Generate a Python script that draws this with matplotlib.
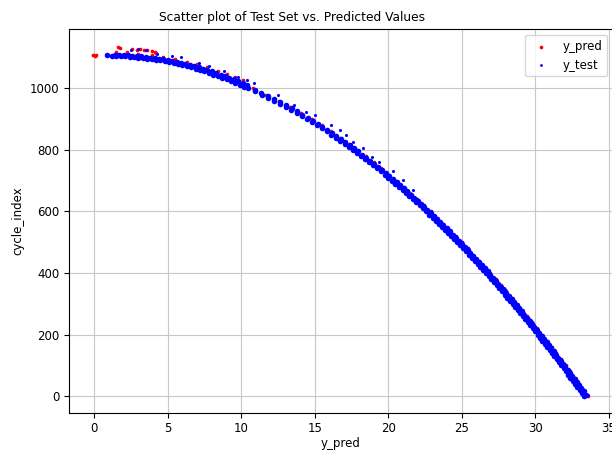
import matplotlib
matplotlib.use("Agg")
import matplotlib.pyplot as plt

# -----------------------------
# Data
# -----------------------------
# y_test: main band, lower/steep part
test_main_y = [0, 10, 20, 30, 40, 50, 60, 70, 80, 90, 100, 110, 120, 130, 140, 150,
               160, 170, 180, 190, 200, 210, 220, 230, 240, 250, 260, 270, 280, 290,
               300, 310, 320, 330, 340, 350, 360, 370, 380, 390, 400, 410, 420, 430,
               440, 450, 460, 470, 480, 490, 500, 510, 520, 530, 540, 550, 560, 570,
               580, 590, 600, 610, 620, 630, 640, 650, 660, 670, 680, 690, 700, 710,
               720, 730, 740, 750, 760, 770, 780, 790, 800, 810, 820, 830, 840, 850,
               860, 870, 880, 890, 900, 910, 920, 930, 940, 950, 960, 970, 980, 990, 1000]
test_main_x = [33.32, 33.17, 33.02, 32.86, 32.71, 32.56, 32.40, 32.25, 32.09, 31.94,
               31.78, 31.62, 31.46, 31.30, 31.14, 30.98, 30.82, 30.66, 30.50, 30.33,
               30.17, 30.00, 29.83, 29.66, 29.50, 29.33, 29.15, 28.98, 28.81, 28.64,
               28.46, 28.28, 28.11, 27.93, 27.75, 27.57, 27.39, 27.20, 27.02, 26.83,
               26.65, 26.46, 26.27, 26.08, 25.88, 25.69, 25.50, 25.30, 25.10, 24.90,
               24.70, 24.49, 24.29, 24.08, 23.87, 23.66, 23.45, 23.24, 23.02, 22.80,
               22.58, 22.36, 22.14, 21.91, 21.68, 21.45, 21.21, 20.98, 20.74, 20.49,
               20.25, 20.00, 19.75, 19.49, 19.24, 18.97, 18.71, 18.44, 18.17, 17.89,
               17.61, 17.32, 17.03, 16.73, 16.43, 16.12, 15.81, 15.49, 15.17, 14.83,
               14.49, 14.14, 13.78, 13.42, 13.04, 12.65, 12.25, 11.83, 11.40, 10.95, 10.49]

# y_test: second row of the band (slightly right)
test_row2_y = [5, 15, 25, 35, 45, 55, 65, 75, 85, 95, 105, 115, 125, 135, 145, 155,
               165, 175, 185, 195, 205, 215, 225, 235, 245, 255, 265, 275, 285, 295,
               305, 315, 325, 335, 345, 355, 365, 375, 385, 395, 405, 415, 425, 435,
               445, 455, 465, 475, 485, 495, 505, 515, 525, 535, 545, 555, 565, 575,
               585, 595, 605, 615, 625, 635, 645, 655, 665, 675, 685, 695, 705, 715,
               725, 735, 745, 755, 765, 775, 785, 795, 805, 815, 825, 835, 845, 855,
               865, 875, 885, 895, 905, 915, 925, 935, 945, 955, 965, 975, 985, 995]
test_row2_x = [33.44, 33.30, 33.14, 32.99, 32.84, 32.68, 32.53, 32.37, 32.22, 32.06,
               31.90, 31.74, 31.58, 31.42, 31.26, 31.10, 30.94, 30.78, 30.62, 30.45,
               30.29, 30.12, 29.95, 29.78, 29.62, 29.44, 29.27, 29.10, 28.93, 28.75,
               28.57, 28.40, 28.22, 28.04, 27.86, 27.68, 27.50, 27.31, 27.13, 26.94,
               26.76, 26.57, 26.38, 26.18, 25.99, 25.80, 25.60, 25.40, 25.20, 25.00,
               24.80, 24.59, 24.39, 24.18, 23.97, 23.76, 23.55, 23.33, 23.11, 22.89,
               22.67, 22.45, 22.23, 22.00, 21.77, 21.53, 21.30, 21.06, 20.82, 20.57,
               20.33, 20.08, 19.82, 19.57, 19.31, 19.04, 18.78, 18.51, 18.23, 17.95,
               17.67, 17.38, 17.08, 16.78, 16.48, 16.17, 15.85, 15.53, 15.20, 14.86,
               14.52, 14.16, 13.80, 13.43, 13.05, 12.65, 12.24, 11.82, 11.38, 10.92]

# y_test: flat top of the band (two rows)
test_top_x = [0.9, 1.2, 1.5, 1.8, 2.1, 2.4, 2.7, 3.0, 3.3, 3.6, 3.9, 4.2, 4.5, 4.8,
              5.1, 5.4, 5.7, 6.0, 6.3, 6.6, 6.9, 7.2, 7.5, 7.8, 8.1, 8.4, 8.7, 9.0,
              9.3, 9.6, 9.9, 10.2,
              1.4, 1.7, 2.0, 2.3, 2.6, 2.9, 3.2, 3.5, 3.8, 4.1, 4.4, 4.7, 5.0, 5.3,
              5.6, 5.9, 6.2, 6.5, 6.8, 7.1, 7.4, 7.7, 8.0, 8.3, 8.6, 8.9, 9.2, 9.5,
              9.8, 10.1, 10.4]
test_top_y = [1107, 1106, 1106, 1105, 1104, 1103, 1102, 1100, 1099, 1097, 1095, 1093,
              1091, 1088, 1085, 1082, 1079, 1076, 1072, 1068, 1064, 1059, 1055, 1050,
              1045, 1040, 1034, 1029, 1023, 1017, 1011, 1005,
              1110, 1109, 1108, 1107, 1106, 1105, 1104, 1102, 1100, 1098, 1096, 1094,
              1092, 1089, 1086, 1083, 1080, 1076, 1072, 1068, 1064, 1059, 1055, 1050,
              1045, 1040, 1035, 1029, 1023, 1017, 1011]

# y_test: sparse offset trail to the right of the band
test_trail_x = [2.5, 2.95, 3.5, 4.3, 5.3, 5.9, 7.1, 7.8, 8.8, 9.75, 10.4, 10.9, 12.5,
                13.6, 14.4, 15.0, 16.1, 16.7, 17.1, 17.6, 18.3, 18.9, 19.4, 20.3,
                21.0, 21.7, 21.95, 22.45, 22.9, 23.35, 23.75, 24.6, 25.0, 25.4, 25.8,
                26.2, 26.55, 26.95, 27.3, 27.85, 28.2, 28.55, 28.9, 29.25, 29.6, 29.95,
                30.45, 30.8, 31.1, 31.45, 31.75, 32.05, 32.35, 32.65, 32.95, 33.25, 33.6]
test_trail_y = [1126, 1129, 1124, 1113, 1105, 1102, 1083, 1072, 1057, 1037, 1027, 1018,
                977, 945, 923, 913, 880, 864, 848, 826, 805, 778, 762, 730, 703, 671,
                640, 620, 600, 580, 560, 520, 500, 480, 460, 440, 420, 400, 380, 350,
                330, 310, 290, 270, 250, 230, 200, 180, 160, 140, 120, 100, 80, 60, 40,
                20, 3]

# y_pred: along the band (mostly hidden under y_test)
pred_band_y = [0, 20, 40, 60, 80, 100, 120, 140, 160, 180, 200, 220, 240, 260, 280,
               300, 320, 340, 360, 380, 400, 420, 440, 460, 480, 500, 520, 540, 560,
               580, 600, 620, 640, 660, 680, 700, 720, 740, 760, 780, 800, 820, 840,
               860, 880, 900, 920, 940, 960, 980, 1000, 1026, 1036, 1046, 1056, 1068,
               1078, 1086, 1094, 1101, 1107, 1113, 1117, 1118]
pred_band_x = [33.62, 33.32, 33.01, 32.70, 32.39, 32.08, 31.76, 31.44, 31.12, 30.80,
               30.47, 30.13, 29.80, 29.45, 29.11, 28.76, 28.41, 28.05, 27.69, 27.32,
               26.95, 26.57, 26.18, 25.80, 25.40, 25.00, 24.59, 24.17, 23.75, 23.32,
               22.88, 22.44, 21.98, 21.51, 21.04, 20.55, 20.05, 19.54, 19.01, 18.47,
               17.91, 17.33, 16.73, 16.11, 15.47, 14.79, 14.08, 13.34, 12.55, 11.70,
               10.79, 10.1, 9.6, 9.0, 8.4, 7.7, 7.0, 6.3, 5.5, 4.7, 3.9, 3.0, 2.2, 1.5]

# y_pred: points above the band near the start
pred_top_x = [-0.1, 0.1, 0.05, 1.6, 1.75, 2.6, 2.9, 3.1, 3.4, 3.6, 3.9, 4.1, 4.2]
pred_top_y = [1108, 1110, 1105, 1133, 1131, 1127, 1126, 1128, 1124, 1125, 1122, 1119, 1116]

x_ticks = [0, 5, 10, 15, 20, 25, 30, 35]
y_ticks = [0, 200, 400, 600, 800, 1000]

# -----------------------------
# Plot
# -----------------------------
pred_x = pred_band_x + pred_top_x
pred_y = pred_band_y + pred_top_y
band_x = test_main_x + test_row2_x + test_top_x
band_y = test_main_y + test_row2_y + test_top_y

fig = plt.figure(figsize=(6.12, 4.5), dpi=100)
ax = fig.add_axes([0.1127, 0.0829, 0.889, 0.8527])

ax.scatter(pred_x, pred_y, color="red", s=7, linewidths=0, label="y_pred", zorder=2)
ax.scatter(band_x, band_y, color="blue", s=16, linewidths=0, label="y_test", zorder=3)
ax.scatter(test_trail_x, test_trail_y, color="blue", s=5, linewidths=0, zorder=3)

ax.set_xlim(-1.72, 35.3)
ax.set_ylim(-54, 1193)
ax.set_xticks(x_ticks)
ax.set_yticks(y_ticks)
ax.tick_params(labelsize=8.5)
ax.grid(True, color="#c8c8c8", linewidth=0.8, zorder=0)
ax.set_axisbelow(True)

fig.text(292 / 612, 1 - 17 / 450, "Scatter plot of Test Set vs. Predicted Values",
         ha="center", va="center", fontsize=8.85)
ax.set_xlabel("y_pred", fontsize=8.5, labelpad=1)
ax.set_ylabel("cycle_index", fontsize=8.5)
leg = ax.legend(loc="upper right", fontsize=8.5)
leg.legend_handles[0].set_sizes([7])
leg.legend_handles[1].set_sizes([4])

fig.savefig("out.png", dpi=100, facecolor="white")
